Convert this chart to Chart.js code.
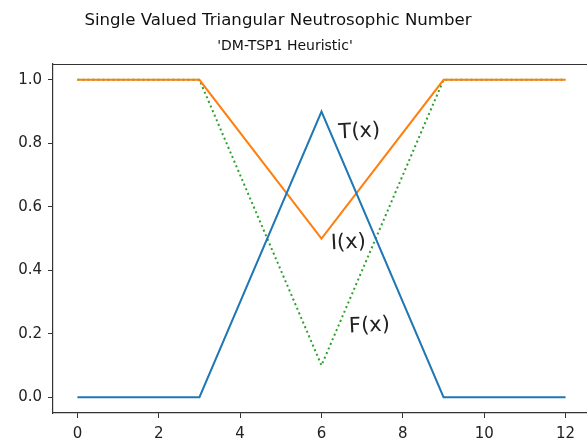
<!DOCTYPE html>
<html>
<head>
<meta charset="utf-8">
<script src="https://cdn.jsdelivr.net/npm/chart.js@4"></script>
<style>
  html, body { margin: 0; padding: 0; background: #fff; overflow: hidden; width: 587px; height: 440px; }
  #wrap { position: absolute; left: 0; top: 0; width: 600px; height: 440px; }
</style>
</head>
<body>
<div id="wrap"><canvas id="c" width="600" height="440"></canvas></div>
<script>
// ---- data ----
const xValues = [0, 3, 6, 9, 12];
const tValues = [0, 0, 0.9, 0, 0];
const iValues = [1, 1, 0.5, 1, 1];
const fValues = [1, 1, 0.1, 1, 1];
const xTicks = [0, 2, 4, 6, 8, 10, 12];
const yTicks = [0.0, 0.2, 0.4, 0.6, 0.8, 1.0];
const labelTexts = ['T(x)', 'I(x)', 'F(x)'];
const labelX = [6.93, 6.66, 7.18];
const labelY = [0.836, 0.486, 0.224];
const titleText = 'Single Valued Triangular Neutrosophic Number';
const subtitleText = "'DM-TSP1 Heuristic'";

const toPts = (ys) => xValues.map((x, k) => ({ x: x, y: ys[k] }));
const FONT = "'DejaVu Sans', sans-serif";

const decor = {
  id: 'decor',
  afterDraw(chart) {
    const ctx = chart.ctx, a = chart.chartArea;
    const xs = chart.scales.x, ys = chart.scales.y;
    ctx.save();
    // top and right spines
    ctx.strokeStyle = '#333';
    ctx.lineWidth = 1.2;
    ctx.beginPath();
    ctx.moveTo(a.left, a.top + 0.5);
    ctx.lineTo(a.right, a.top + 0.5);
    ctx.lineTo(a.right, a.bottom);
    ctx.stroke();
    // titles
    ctx.fillStyle = '#111';
    ctx.textAlign = 'center';
    ctx.textBaseline = 'middle';
    ctx.font = '16.6px ' + FONT;
    ctx.fillText(titleText, 278, 21);
    ctx.font = '14px ' + FONT;
    ctx.fillText(subtitleText, 285, 46);
    // annotations
    ctx.font = '21px ' + FONT;
    ctx.fillStyle = '#222';
    labelTexts.forEach((t, k) => {
      const px = xs.getPixelForValue(labelX[k]);
      const py = ys.getPixelForValue(labelY[k]);
      ctx.save();
      ctx.translate(px, py);
      ctx.rotate(-3 * Math.PI / 180);
      ctx.fillText(t, 0, 0);
      ctx.restore();
    });
    ctx.restore();
  }
};

new Chart(document.getElementById('c'), {
  type: 'line',
  data: {
    datasets: [
      { label: 'T', data: toPts(tValues), borderColor: '#1f77b4', borderWidth: 2, pointRadius: 0, tension: 0, fill: false },
      { label: 'I', data: toPts(iValues), borderColor: '#ff7f0e', borderWidth: 2, pointRadius: 0, tension: 0, fill: false },
      { label: 'F', data: toPts(fValues), borderColor: '#2ca02c', borderWidth: 2, borderDash: [2, 3], pointRadius: 0, tension: 0, fill: false }
    ]
  },
  options: {
    responsive: false,
    animation: false,
    layout: { padding: { top: 64, right: 10, left: 0, bottom: 0 } },
    plugins: { legend: { display: false }, tooltip: { enabled: false }, title: { display: false } },
    scales: {
      x: {
        type: 'linear', min: -0.6, max: 12.6,
        afterBuildTicks: (s) => { s.ticks = xTicks.map(v => ({ value: v })); },
        afterFit: (s) => { s.height = 27; },
        grid: { drawOnChartArea: false, drawTicks: true, tickLength: 5, color: '#333', lineWidth: 1 },
        border: { display: true, color: '#333', width: 1.2 },
        ticks: { color: '#222', font: { family: FONT, size: 15 }, padding: 7, maxRotation: 0, callback: (v) => String(v) }
      },
      y: {
        type: 'linear', min: -0.05, max: 1.05,
        afterBuildTicks: (s) => { s.ticks = yTicks.map(v => ({ value: v })); },
        afterFit: (s) => { s.width = 53; },
        grid: { drawOnChartArea: false, drawTicks: true, tickLength: 5, color: '#333', lineWidth: 1 },
        border: { display: true, color: '#333', width: 1.2 },
        ticks: { color: '#222', font: { family: FONT, size: 15 }, padding: 6, callback: (v) => Number(v).toFixed(1) }
      }
    }
  },
  plugins: [decor]
});
</script>
</body>
</html>
